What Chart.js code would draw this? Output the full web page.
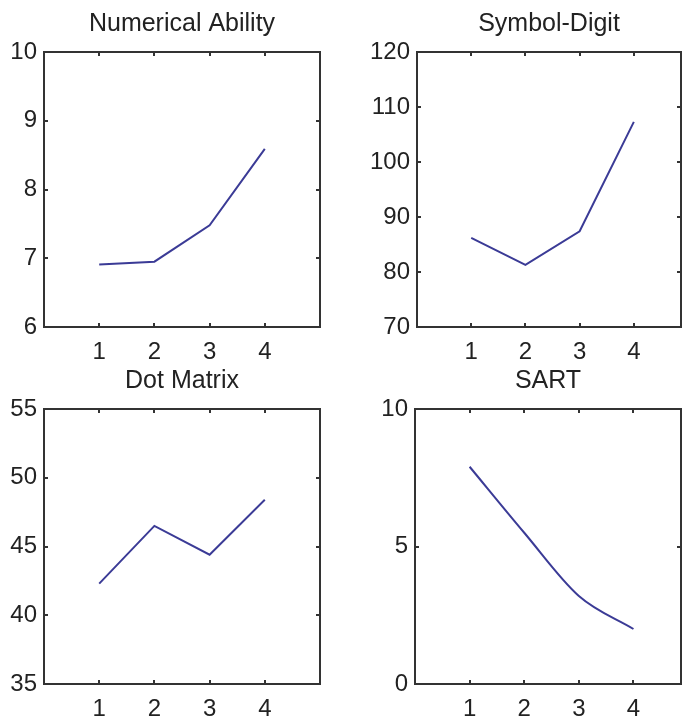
<!DOCTYPE html>
<html>
<head>
<meta charset="utf-8">
<script src="https://cdn.jsdelivr.net/npm/chart.js@4.4.1/dist/chart.umd.min.js"></script>
<style>
  body { margin: 0; background: #fff; overflow: hidden; }
  #wrap { position: relative; width: 683px; height: 725px; }
  canvas { position: absolute; }
</style>
</head>
<body>
<div id="wrap">
  <canvas id="na" width="340" height="362" style="left:0;top:0"></canvas>
  <canvas id="sd" width="343" height="362" style="left:340px;top:0"></canvas>
  <canvas id="dm" width="340" height="363" style="left:0;top:362px"></canvas>
  <canvas id="sart" width="343" height="363" style="left:340px;top:362px"></canvas>
</div>
<script>
// sessions on the x axis
const sessions = [1, 2, 3, 4];

// values
const numericalAbility = [6.91, 6.95, 7.48, 8.59];
const symbolDigit = [86.2, 81.3, 87.4, 107.3];
const dotMatrix = [42.3, 46.5, 44.4, 48.4];
const sartScores = [7.9, 5.5, 3.2, 2.0];

// tick labels
const xTicks = [1, 2, 3, 4];
const naTicks = [6, 7, 8, 9, 10];
const sdTicks = [70, 80, 90, 100, 110, 120];
const dmTicks = [35, 40, 45, 50, 55];
const sartTicks = [0, 5, 10];

const FONT = '"Liberation Sans", Arial, sans-serif';
const LINE = '#3b3b96';
const INK = '#222';

// matlab style box with inward ticks on all four sides
const boxTicks = {
    id: 'boxTicks',
    afterDraw(chart) {
        const { ctx, chartArea: a, scales: { x, y } } = chart;
        ctx.save();
        ctx.strokeStyle = '#333';
        ctx.lineWidth = 2;
        ctx.strokeRect(a.left, a.top, a.right - a.left, a.bottom - a.top);
        ctx.beginPath();
        x.ticks.forEach(t => {
            const px = Math.round(x.getPixelForValue(t.value));
            ctx.moveTo(px, a.bottom); ctx.lineTo(px, a.bottom - 4);
            ctx.moveTo(px, a.top); ctx.lineTo(px, a.top + 4);
        });
        y.ticks.forEach(t => {
            const py = Math.round(y.getPixelForValue(t.value));
            ctx.moveTo(a.left, py); ctx.lineTo(a.left + 4, py);
            ctx.moveTo(a.right, py); ctx.lineTo(a.right - 4, py);
        });
        ctx.stroke();
        ctx.restore();
    }
};

function makePanel(id, title, values, yTicks, opt) {
    const ctx = document.getElementById(id).getContext('2d');
    return new Chart(ctx, {
        type: 'line',
        data: {
            datasets: [{
                data: sessions.map((s, i) => ({ x: s, y: values[i] })),
                borderColor: LINE,
                borderWidth: 2,
                pointRadius: 0,
                tension: opt.tension || 0,
                cubicInterpolationMode: opt.tension ? 'monotone' : 'default',
                fill: false
            }]
        },
        options: {
            responsive: false,
            animation: false,
            layout: { padding: { left: 0, right: opt.padRight, top: 0, bottom: 0 } },
            plugins: {
                legend: { display: false },
                tooltip: { enabled: false },
                title: {
                    display: true,
                    text: title,
                    fullSize: false,
                    color: INK,
                    font: { family: FONT, size: 25, weight: 'normal', lineHeight: 1.2 },
                    padding: { top: opt.titleTop, bottom: opt.titleBottom }
                }
            },
            scales: {
                x: {
                    type: 'linear',
                    min: 0,
                    max: opt.xMax,
                    grid: { display: false, drawTicks: false },
                    border: { display: false },
                    afterBuildTicks: s => { s.ticks = xTicks.map(v => ({ value: v })); },
                    afterFit: s => { s.height = opt.xHeight; },
                    ticks: { color: INK, padding: 11, font: { family: FONT, size: 24 }, maxRotation: 0 }
                },
                y: {
                    min: yTicks[0],
                    max: yTicks[yTicks.length - 1],
                    grid: { display: false, drawTicks: false },
                    border: { display: false },
                    afterBuildTicks: s => { s.ticks = yTicks.map(v => ({ value: v })); },
                    afterFit: s => { s.width = opt.yWidth; },
                    ticks: { color: INK, padding: 7, font: { family: FONT, size: 24 } }
                }
            }
        },
        plugins: [boxTicks]
    });
}

makePanel('na', 'Numerical Ability', numericalAbility, naTicks,
    { xMax: 5, yWidth: 44, padRight: 20, xHeight: 35, titleTop: 9, titleBottom: 13 });
makePanel('sd', 'Symbol-Digit', symbolDigit, sdTicks,
    { xMax: 4.87, yWidth: 77, padRight: 2, xHeight: 35, titleTop: 9, titleBottom: 13 });
makePanel('dm', 'Dot Matrix', dotMatrix, dmTicks,
    { xMax: 5, yWidth: 44, padRight: 20, xHeight: 41, titleTop: 4, titleBottom: 13 });
makePanel('sart', 'SART', sartScores, sartTicks,
    { xMax: 4.87, yWidth: 75, padRight: 2, xHeight: 41, titleTop: 4, titleBottom: 13, tension: 0.25 });
</script>
</body>
</html>
